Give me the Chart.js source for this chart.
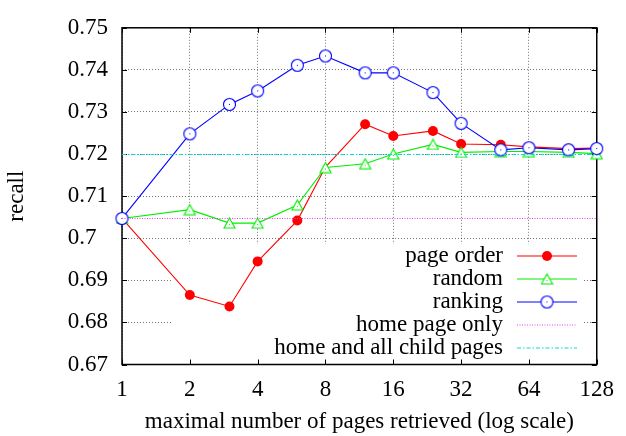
<!DOCTYPE html>
<html>
<head>
<meta charset="utf-8">
<script src="https://cdn.jsdelivr.net/npm/chart.js@4.4.0/dist/chart.umd.min.js"></script>
<style>
  html, body { margin: 0; padding: 0; background: #fff; }
</style>
</head>
<body>
<canvas id="recallChart" width="626" height="436"></canvas>
<script>
// maximal number of pages retrieved
var pages = [1, 2, 3, 4, 6, 8, 12, 16, 24, 32, 48, 64, 96, 128];

// recall per strategy
var pageOrder = [0.7047, 0.6865, 0.6838, 0.6945, 0.7042, 0.7169, 0.7271, 0.7243, 0.7255, 0.7224, 0.7222, 0.7217, 0.7213, 0.7214];
var random    = [0.7047, 0.7068, 0.7036, 0.7036, 0.7079, 0.7168, 0.7177, 0.7200, 0.7223, 0.7204, 0.7206, 0.7206, 0.7204, 0.7201];
var ranking   = [0.7047, 0.7248, 0.7318, 0.7350, 0.7411, 0.7433, 0.7393, 0.7393, 0.7346, 0.7273, 0.7210, 0.7215, 0.7210, 0.7213];
var homePageOnly = 0.7047;
var homeAndChildPages = 0.7199;

var xTicks = [1, 2, 4, 8, 16, 32, 64, 128];
var yTicks = [0.67, 0.68, 0.69, 0.70, 0.71, 0.72, 0.73, 0.74, 0.75];
var yTickLabels = ["0.67", "0.68", "0.69", "0.7\u2007", "0.71", "0.72", "0.73", "0.74", "0.75"];

var serif = "'Liberation Serif', 'Times New Roman', serif";
var fontSize = 23;
Chart.defaults.font.family = serif;
Chart.defaults.color = "#000";

function toPoints(values) {
    return pages.map(function (p, i) { return { x: p, y: values[i] }; });
}

// gnuplot style point markers (white inside, outline + centre dot)
function triangleMarker(color) {
    var c = document.createElement("canvas");
    c.width = 13; c.height = 12;
    var g = c.getContext("2d");
    g.strokeStyle = color;
    g.fillStyle = "#fff";
    g.lineWidth = 1.1;
    g.beginPath();
    g.moveTo(6.5, 1); g.lineTo(12, 11); g.lineTo(1, 11); g.closePath();
    g.fill();
    g.stroke();
    g.fillStyle = color;
    g.fillRect(6, 7, 1, 1);
    return c;
}
function circleMarker(color) {
    var c = document.createElement("canvas");
    c.width = 15; c.height = 15;
    var g = c.getContext("2d");
    g.strokeStyle = color;
    g.fillStyle = "#fff";
    g.lineWidth = 1.1;
    g.beginPath();
    g.arc(7.5, 7.5, 6, 0, Math.PI * 2);
    g.fill();
    g.stroke();
    g.fillStyle = color;
    g.fillRect(7, 7, 1, 1);
    return c;
}

// the page order point at 8 has no visible marker
var pageOrderRadius = pages.map(function (p) { return p === 8 ? 0 : 5; });

var frameAndKey = {
    id: "frameAndKey",
    beforeDatasetsDraw: function (chart) {
        var ctx = chart.ctx, a = chart.chartArea;
        var x = chart.scales.x, y = chart.scales.y;
        ctx.save();
        // opaque key box hides the grid behind it
        ctx.fillStyle = "#fff";
        ctx.fillRect(171, 244, a.right - 13 - 171, a.bottom - 244);
        // inward tick marks on all four sides
        ctx.strokeStyle = "#000";
        ctx.lineWidth = 1;
        ctx.beginPath();
        xTicks.forEach(function (v) {
            var px = Math.round(x.getPixelForValue(v)) + 0.5;
            ctx.moveTo(px, a.bottom); ctx.lineTo(px, a.bottom - 5);
            ctx.moveTo(px, a.top); ctx.lineTo(px, a.top + 5);
        });
        yTicks.forEach(function (v) {
            var py = Math.round(y.getPixelForValue(v)) + 0.5;
            ctx.moveTo(a.left, py); ctx.lineTo(a.left + 5, py);
            ctx.moveTo(a.right, py); ctx.lineTo(a.right - 5, py);
        });
        ctx.stroke();
        ctx.lineWidth = 1.5;
        ctx.strokeRect(a.left, a.top, a.right - a.left, a.bottom - a.top);
        ctx.restore();
    },
    afterDatasetsDraw: function (chart) {
        var ctx = chart.ctx;
        ctx.save();
        ctx.font = fontSize + "px " + serif;
        ctx.textAlign = "right";
        ctx.textBaseline = "middle";
        chart.data.datasets.forEach(function (ds, i) {
            var rowY = 256 + i * 23;
            ctx.fillStyle = "#000";
            ctx.fillText(ds.label, 503, rowY);
            ctx.strokeStyle = ds.borderColor;
            ctx.lineWidth = ds.borderWidth;
            ctx.setLineDash(ds.borderDash || []);
            ctx.beginPath();
            ctx.moveTo(517, rowY); ctx.lineTo(577, rowY);
            ctx.stroke();
            ctx.setLineDash([]);
            if (ds.pointStyle instanceof HTMLCanvasElement) {
                ctx.drawImage(ds.pointStyle, 547 - ds.pointStyle.width / 2, rowY - ds.pointStyle.height / 2);
            } else if (ds.pointStyle === "circle") {
                ctx.fillStyle = ds.backgroundColor;
                ctx.beginPath();
                ctx.arc(547, rowY, 5, 0, Math.PI * 2);
                ctx.fill();
            }
        });
        ctx.restore();
    }
};

var ctx = document.getElementById("recallChart");
var recallChart = new Chart(ctx, {
    type: "line",
    data: {
        datasets: [
            {
                label: "page order",
                data: toPoints(pageOrder),
                borderColor: "#ff0000",
                backgroundColor: "#ff0000",
                borderWidth: 1.1,
                pointStyle: "circle",
                pointRadius: pageOrderRadius,
                pointBorderWidth: 0,
                order: 5
            },
            {
                label: "random",
                data: toPoints(random),
                borderColor: "#00ee00",
                backgroundColor: "#00ee00",
                borderWidth: 1.1,
                pointStyle: triangleMarker("#00ee00"),
                order: 4
            },
            {
                label: "ranking",
                data: toPoints(ranking),
                borderColor: "#0000ff",
                backgroundColor: "#0000ff",
                borderWidth: 1.1,
                pointStyle: circleMarker("#0000ff"),
                order: 3
            },
            {
                label: "home page only",
                data: toPoints(pages.map(function () { return homePageOnly; })),
                borderColor: "#e040e0",
                borderWidth: 1,
                borderDash: [1, 1.5],
                pointRadius: 0,
                order: 2
            },
            {
                label: "home and all child pages",
                data: toPoints(pages.map(function () { return homeAndChildPages; })),
                borderColor: "#00dddd",
                borderWidth: 1,
                borderDash: [4, 2, 1.5, 2],
                pointRadius: 0,
                order: 1
            }
        ]
    },
    options: {
        responsive: false,
        animation: false,
        clip: false,
        layout: { padding: { top: 10, right: 22, bottom: 0, left: 0 } },
        elements: { line: { tension: 0 } },
        plugins: {
            legend: { display: false },
            tooltip: { enabled: false }
        },
        scales: {
            x: {
                type: "logarithmic",
                min: 1,
                max: 128,
                afterBuildTicks: function (s) { s.ticks = xTicks.map(function (v) { return { value: v }; }); },
                afterFit: function (s) { s.height = 71.5; },
                grid: { color: "rgba(0,0,0,0.55)", lineWidth: 1, drawTicks: false },
                border: { display: false, dash: [1, 2] },
                ticks: {
                    padding: 12,
                    font: { size: fontSize },
                    maxRotation: 0,
                    autoSkip: false,
                    callback: function (v) { return String(v); }
                },
                title: {
                    display: true,
                    text: "maximal number of pages retrieved (log scale)",
                    font: { size: fontSize },
                    padding: { top: 0, bottom: 0 }
                }
            },
            y: {
                min: 0.67,
                max: 0.75,
                afterBuildTicks: function (s) { s.ticks = yTicks.map(function (v) { return { value: v }; }); },
                afterFit: function (s) { s.width = 122; },
                grid: { color: "rgba(0,0,0,0.55)", lineWidth: 1, drawTicks: false },
                border: { display: false, dash: [1, 2] },
                ticks: {
                    padding: 14,
                    font: { size: fontSize },
                    autoSkip: false,
                    callback: function (v) { return yTickLabels[yTicks.indexOf(v)]; }
                },
                title: {
                    display: true,
                    text: "recall",
                    font: { size: fontSize },
                    padding: { top: 3, bottom: 0 }
                }
            }
        }
    },
    plugins: [frameAndKey]
});
</script>
</body>
</html>
